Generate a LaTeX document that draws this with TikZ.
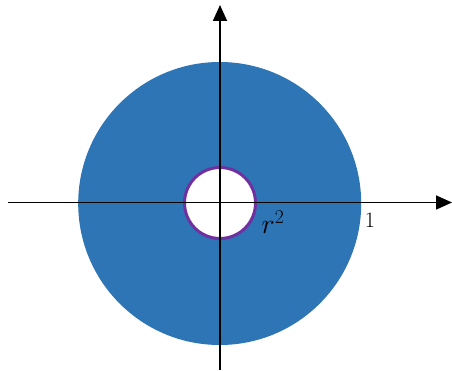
\RequirePackage{fix-cm}
\documentclass[tikz,border=0pt]{standalone}
\usepackage{tikz}
\usetikzlibrary{arrows.meta}
\definecolor{diskblue}{RGB}{46,117,182}
\definecolor{rimpurple}{RGB}{112,48,160}

\begin{document}
\begin{tikzpicture}[
  x=1pt, y=1pt,
  disk/.style={circle, fill=diskblue, inner sep=0pt},
  hole/.style={circle, draw=rimpurple, fill=white, line width=3pt, inner sep=0pt},
  axis/.style={-{Triangle[length=16pt, width=14pt]}, line width=1.8pt, draw=black},
  axlabel/.style={inner sep=0pt, text=black}
]
  \useasboundingbox (0,0) rectangle (452,370);

  % --- annulus ---
  \coordinate (O) at (220,167);
  \node[disk, minimum size=283pt] (outer) at (219.7,166.5) {};
  \node[hole, minimum size=71pt] (inner) at (O) {};

  % --- axes ---
  \coordinate (xl) at (8,167.5);
  \coordinate (xr) at (452,167.5);
  \coordinate (yb) at (220,0);
  \coordinate (yt) at (220,365);
  \draw[axis] (xl) -- (xr);
  \draw[axis] (yb) -- (yt);

  % --- labels ---
  \node[axlabel, font=\fontsize{28}{32}\selectfont] (rsq) at (273,148) {$r^2$};
  \node[axlabel, font=\fontsize{22}{26}\selectfont] (one) at (370,150) {1};
\end{tikzpicture}
\end{document}
